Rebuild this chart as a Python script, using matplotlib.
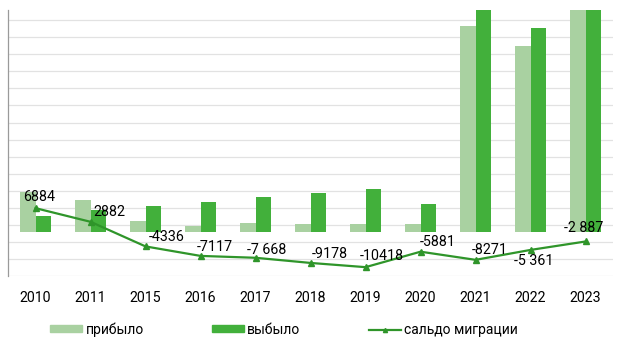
import matplotlib.pyplot as plt
import numpy as np
from matplotlib.lines import Line2D
from matplotlib.patches import Patch

plt.rcParams['font.family'] = ['Roboto', 'DejaVu Sans']

years = ["2010", "2011", "2015", "2016", "2017", "2018", "2019", "2020", "2021", "2022", "2023"]
arrived = [11500, 9300, 3100, 1600, 2500, 2100, 2100, 2300, 60240, 54470, 66000]
departed = [4616, 6418, 7436, 8717, 10168, 11278, 12518, 8181, 68511, 59831, 68887]
balance = [6884, 2882, -4336, -7117, -7668, -9178, -10418, -5881, -8271, -5361, -2887]
balance_labels = ["6884", "2882", "-4336", "-7117", "-7 668", "-9178", "-10418", "-5881", "-8271", "-5 361", "-2 887"]

# label offsets in pixels from each marker
label_dx = [4, 18.5, 21, 14, 11, 19, 16, 17, 14, 3.5, -1.5]
label_dy = [11.5, 9.5, 9.5, 9, 8, 9, 11.5, 9.5, 9.5, -11.5, 13.5]

c_arr = "#a9d1a1"
c_dep = "#42b03b"
c_line = "#2f952a"

fig = plt.figure(figsize=(6.27, 3.48), dpi=100)
ax = fig.add_axes([0.0128, 0.207, 0.965, 0.763])

x = np.arange(len(years))
w = 0.28
ax.bar(x - w / 2, arrived, w, color=c_arr, zorder=2)
ax.bar(x + w / 2, departed, w, color=c_dep, zorder=2)
ax.plot(x, balance, color=c_line, lw=1.6, marker="^", ms=4, zorder=3)

for i in range(len(years)):
    ax.annotate(balance_labels[i], (x[i], balance[i]), xytext=(label_dx[i], label_dy[i]),
                textcoords="offset pixels", ha="center", va="center", fontsize=10.3, zorder=4)

ax.set_xlim(-0.5, len(years) - 0.5)
ax.set_ylim(-13000, 64870)
ax.set_yticks(np.arange(-13000, 62001, 5000))
ax.yaxis.grid(True, color="#e2e2e2", lw=0.9, zorder=0)
ax.set_axisbelow(True)
ax.tick_params(axis="y", length=0, labelleft=False)
ax.set_xticks(x)
ax.set_xticklabels(years)
ax.tick_params(axis="x", length=0, labelsize=10.2, pad=10.5)
for s in ["top", "right", "bottom"]:
    ax.spines[s].set_visible(False)
ax.spines["left"].set_color("#9a9a9a")
ax.spines["left"].set_linewidth(0.9)

handles = [Patch(color=c_arr), Patch(color=c_dep),
           Line2D([], [], color=c_line, lw=1.6, marker="^", ms=3)]
fig.legend(handles, ["прибыло", "выбыло", "сальдо миграции"], ncol=3,
           loc="center left", bbox_to_anchor=(0.06, 0.053), frameon=False,
           fontsize=10, handlelength=2.3, handleheight=0.42, handletextpad=0.25,
           columnspacing=4.9)

fig.savefig("out.png", dpi=100)
